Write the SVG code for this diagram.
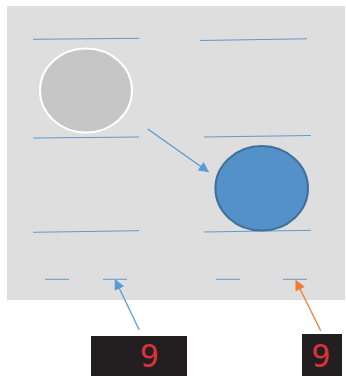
<svg xmlns="http://www.w3.org/2000/svg" width="346" height="376" viewBox="0 0 346 376">
<style>
.ln{stroke:#5b9bd5;stroke-width:1;fill:none}
.digit{font-family:"DejaVu Sans Mono","Liberation Mono",monospace;font-size:32px;fill:#d9323b;text-anchor:middle}
.box{fill:#231f20}
</style>
<defs>
<marker id="ab" viewBox="0 0 10 10" refX="9" refY="5" markerWidth="9" markerHeight="8" orient="auto" markerUnits="strokeWidth"><path d="M0,0 L10,5 L0,10 z" fill="#5b9bd5"/></marker>
<marker id="ao" viewBox="0 0 10 10" refX="9" refY="5" markerWidth="9" markerHeight="8" orient="auto" markerUnits="strokeWidth"><path d="M0,0 L10,5 L0,10 z" fill="#ed7d31"/></marker>
</defs>
<rect width="346" height="376" fill="#ffffff"/>
<rect id="panel" x="7" y="6" width="338" height="294" fill="#dedede"/>
<g id="lines">
<line class="ln" x1="33" y1="39.3" x2="139" y2="38.3"/>
<line class="ln" x1="200" y1="40.5" x2="307" y2="38.8"/>
<line class="ln" x1="33" y1="138" x2="139" y2="137"/>
<line class="ln" x1="204" y1="137" x2="311" y2="135.5"/>
<line class="ln" x1="33" y1="232.3" x2="139" y2="230.7"/>
<line class="ln" x1="204" y1="232" x2="311" y2="230.3"/>
<line class="ln" x1="45" y1="279.3" x2="69" y2="279.3"/>
<line class="ln" x1="103" y1="279.3" x2="127" y2="279.3"/>
<line class="ln" x1="216" y1="279.3" x2="240" y2="279.3"/>
<line class="ln" x1="283" y1="279.3" x2="307" y2="279.3"/>
</g>
<g id="grayCircle"><ellipse cx="86" cy="90.5" rx="46" ry="42" fill="#c6c6c6" stroke="#ffffff" stroke-width="2"/></g>
<g id="blueCircle"><ellipse cx="261.7" cy="188.3" rx="46.3" ry="42.2" fill="#5391c8" stroke="#42709b" stroke-width="2"/></g>
<g id="display1"><rect class="box" x="91" y="336" width="96" height="40"/><text class="digit" x="149.5" y="367">9</text></g>
<g id="display2"><rect class="box" x="302" y="334" width="40" height="42"/><text class="digit" x="321" y="367">9</text></g>
<g id="connectors">
<line x1="147.7" y1="129" x2="208.3" y2="171.7" stroke="#5b9bd5" stroke-width="1.3" marker-end="url(#ab)"/>
<line x1="139.3" y1="330" x2="115.3" y2="280" stroke="#5b9bd5" stroke-width="1.3" marker-end="url(#ab)"/>
<line x1="320.7" y1="330.7" x2="296" y2="280.7" stroke="#ed7d31" stroke-width="1.3" marker-end="url(#ao)"/>
</g>
</svg>
